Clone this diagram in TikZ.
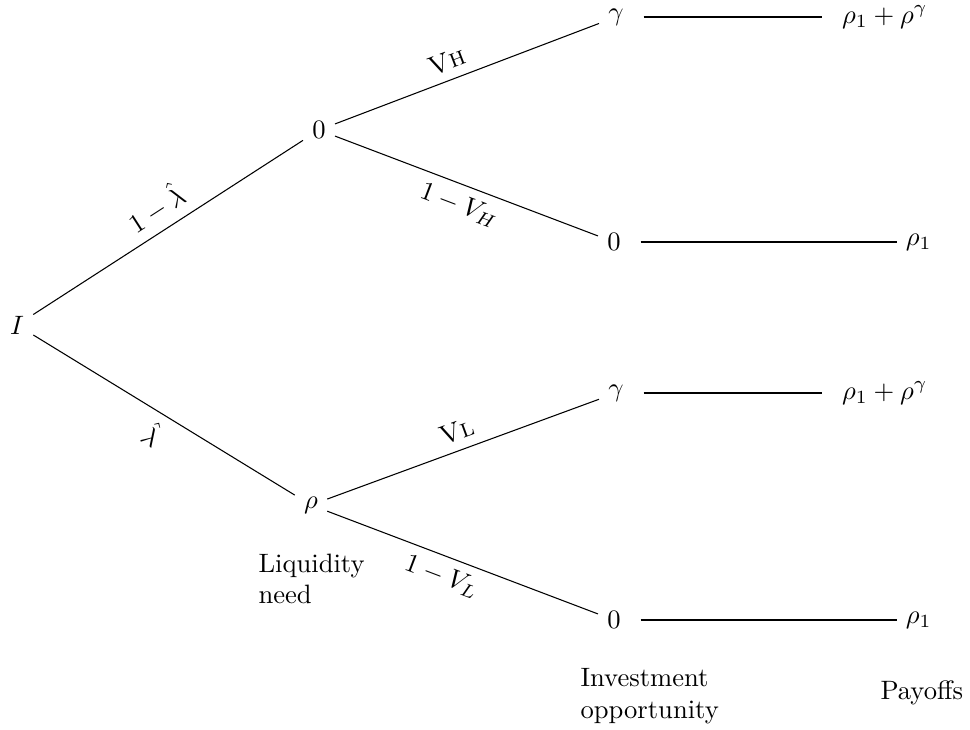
\documentclass[tikz,border=0pt]{standalone}
\usepackage{amsmath}
\usetikzlibrary{calc}

\begin{document}
\begin{tikzpicture} [x=0.376pt, y=-0.376pt]

\useasboundingbox (0,0) rectangle (970,729);

\node (I) at (17,325) {$I$};
\node (A) at (319,130) {$0$};
\node (B) at (311,505) {$\rho$};
\node (AH) at (616,17) {$\gamma$};
\node (AL) at (614,242) {$0$};
\node (BH) at (616,393) {$\gamma$};
\node (BL) at (614,620) {$0$};
\node[anchor=east] (PA) at (937,17) {$\rho_1+\rho^{\gamma}$};
\node[anchor=east] (PB) at (941,242) {$\rho_1$};
\node[anchor=east] (PC) at (937,393) {$\rho_1+\rho^{\gamma}$};
\node[anchor=east] (PD) at (941,620) {$\rho_1$};

\draw (I)--(A) node [above,sloped,midway] {$1-\hat\lambda$};
\draw (I)--(B) node [below,sloped,midway] {$\hat\lambda$};
\draw (A)--(AH) node [above,sloped,pos=0.45] {\scshape Vh};
\draw (A)--(AL) node [below,sloped,midway] {$1-V_H$};
\draw (B)--(BH) node [above,sloped,midway] {\scshape Vl};
\draw (B)--(BL) node [below,sloped,pos=0.45] {$1-V_L$};

\draw[shorten <=4pt, shorten >=4pt] (AH)--(PA);
\draw[shorten <=4pt] (AL)--(PB);
\draw[shorten <=4pt, shorten >=4pt] (BH)--(PC);
\draw[shorten <=4pt] (BL)--(PD);

\node[anchor=north west, align=left, inner sep=0] (liq) at (258,553) {Liquidity\\need};
\node[anchor=north west, align=left, inner sep=0] (inv) at (580,668) {Investment\\opportunity};
\node[anchor=north west, inner sep=0] (pay) at (880,680) {Payoffs};

\end{tikzpicture}
\end{document}
